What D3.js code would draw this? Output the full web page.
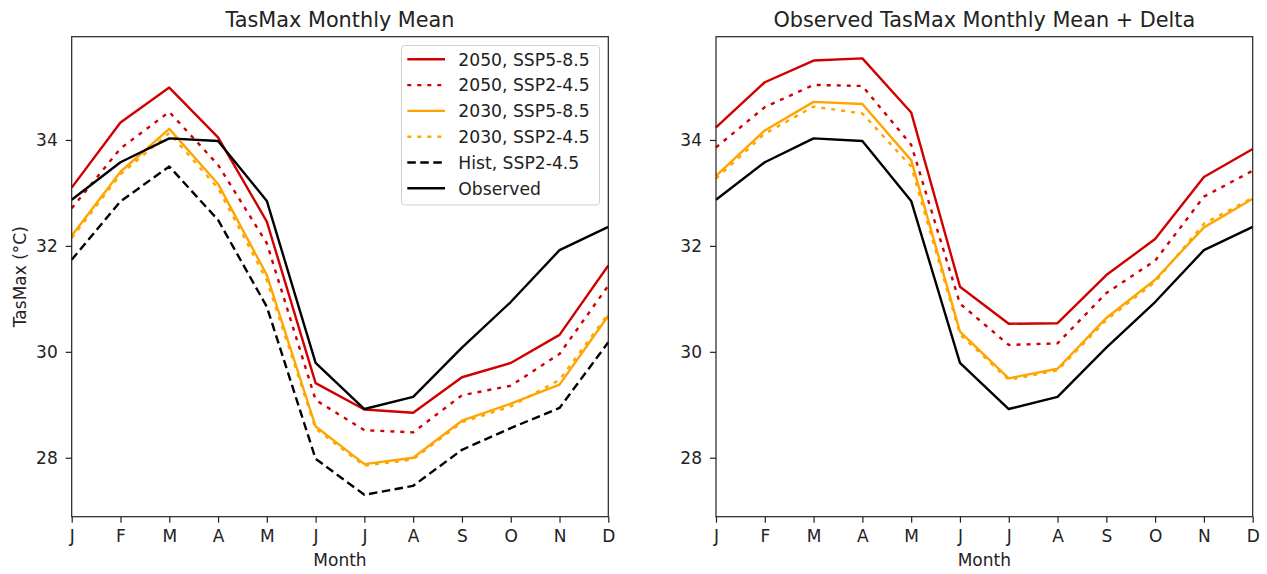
<!DOCTYPE html>
<html>
<head>
<meta charset="utf-8">
<script src="https://cdn.jsdelivr.net/npm/d3@7"></script>
<style>
  html, body { margin: 0; padding: 0; background: #fff; }
  svg { display: block; font-family: "DejaVu Sans", sans-serif; }
</style>
</head>
<body>
<svg id="chart" width="1267" height="574"></svg>
<script>
// Month tick labels
const months = ["J", "F", "M", "A", "M", "J", "J", "A", "S", "O", "N", "D"];
const yTicks = [28, 30, 32, 34];

// Left panel: modelled monthly means of daily max temperature (°C)
const obs        = [32.87, 33.58, 34.03, 33.98, 32.85, 29.79, 28.92, 29.15, 30.08, 30.94, 31.92, 32.36];
const ssp585_2050 = [33.10, 34.33, 34.99, 34.05, 32.46, 29.41, 28.91, 28.85, 29.52, 29.79, 30.32, 31.63];
const ssp245_2050 = [32.71, 33.84, 34.53, 33.53, 32.05, 29.09, 28.52, 28.48, 29.18, 29.36, 29.96, 31.25];
const ssp585_2030 = [32.19, 33.40, 34.21, 33.17, 31.45, 28.59, 27.88, 28.00, 28.70, 29.02, 29.38, 30.68];
const ssp245_2030 = [32.15, 33.35, 34.13, 33.09, 31.35, 28.55, 27.85, 27.97, 28.67, 28.97, 29.47, 30.72];
const hist245    = [31.74, 32.84, 33.50, 32.49, 30.85, 27.98, 27.30, 27.47, 28.15, 28.56, 28.94, 30.18];

// Right panel: observed climatology shifted by each scenario's change
const dSsp585_2050 = [34.24, 35.09, 35.50, 35.54, 34.52, 31.23, 30.53, 30.54, 31.45, 32.13, 33.30, 33.83];
const dSsp245_2050 = [33.86, 34.62, 35.04, 35.02, 33.91, 30.91, 30.13, 30.16, 31.11, 31.72, 32.93, 33.42];
const dSsp585_2030 = [33.32, 34.18, 34.72, 34.68, 33.62, 30.38, 29.50, 29.68, 30.64, 31.36, 32.35, 32.89];
const dSsp245_2030 = [33.27, 34.12, 34.63, 34.50, 33.50, 30.33, 29.47, 29.65, 30.60, 31.32, 32.42, 32.91];

const RED = "#d00000", ORANGE = "#ffa500", BLACK = "#000000";
const DOT = "4,6", DASH = "8.5,4.5";
const LW = 2.4;

const leftSeries = [
  { name: "2050, SSP5-8.5", values: ssp585_2050, color: RED, dash: null },
  { name: "2050, SSP2-4.5", values: ssp245_2050, color: RED, dash: DOT },
  { name: "2030, SSP5-8.5", values: ssp585_2030, color: ORANGE, dash: null },
  { name: "2030, SSP2-4.5", values: ssp245_2030, color: ORANGE, dash: DOT },
  { name: "Hist, SSP2-4.5", values: hist245, color: BLACK, dash: DASH },
  { name: "Observed", values: obs, color: BLACK, dash: null }
];
const rightSeries = [
  { values: dSsp585_2050, color: RED, dash: null },
  { values: dSsp245_2050, color: RED, dash: DOT },
  { values: dSsp585_2030, color: ORANGE, dash: null },
  { values: dSsp245_2030, color: ORANGE, dash: DOT },
  { values: obs, color: BLACK, dash: null }
];

const svg = d3.select("#chart");
const plotTop = 36.7, plotBottom = 516.7;
const y = d3.scaleLinear().domain([26.887, 35.95]).range([plotBottom, plotTop]);

function panel(x0, x1, title, series, yLabel) {
  const x = d3.scaleLinear().domain([0, 11]).range([x0, x1]);
  const g = svg.append("g");

  const line = d3.line().x((d, i) => x(i)).y(d => y(d));
  series.forEach(s => {
    g.append("path")
      .attr("d", line(s.values))
      .attr("fill", "none")
      .attr("stroke", s.color)
      .attr("stroke-width", LW)
      .attr("stroke-linejoin", "round")
      .attr("stroke-dasharray", s.dash);
  });

  const xAxis = d3.axisBottom(x).tickValues(d3.range(12))
    .tickFormat(i => months[i]).tickSize(6).tickPadding(7.5);
  const gx = g.append("g").attr("transform", `translate(0,${plotBottom})`).call(xAxis);
  const yAxis = d3.axisLeft(y).tickValues(yTicks).tickSize(6).tickPadding(8);
  const gy = g.append("g").attr("transform", `translate(${x0},0)`).call(yAxis);
  [gx, gy].forEach(a => {
    a.select(".domain").remove();
    a.selectAll(".tick line").attr("stroke", "#222").attr("stroke-width", 1.2);
    a.selectAll(".tick text").attr("fill", "#222").style("font-size", "17px")
      .style("font-family", "DejaVu Sans");
  });

  g.append("rect")
    .attr("x", x0).attr("y", plotTop).attr("width", x1 - x0).attr("height", plotBottom - plotTop)
    .attr("fill", "none").attr("stroke", "#222").attr("stroke-width", 1.2);

  g.append("text")
    .attr("x", (x0 + x1) / 2).attr("y", 26.5)
    .attr("text-anchor", "middle").attr("fill", "#222")
    .style("font-size", "20.8px").text(title);

  g.append("text")
    .attr("x", (x0 + x1) / 2).attr("y", 566)
    .attr("text-anchor", "middle").attr("fill", "#222")
    .style("font-size", "17px").text("Month");

  if (yLabel) {
    g.append("text")
      .attr("transform", `translate(26,${(plotTop + plotBottom) / 2}) rotate(-90)`)
      .attr("text-anchor", "middle").attr("fill", "#222")
      .style("font-size", "17px").text(yLabel);
  }
  return g;
}

const leftG = panel(71.7, 608.3, "TasMax Monthly Mean", leftSeries, "TasMax (°C)");
panel(716, 1252.7, "Observed TasMax Monthly Mean + Delta", rightSeries, null);

// Legend in the upper-right of the left panel
const lg = leftG.append("g");
lg.append("rect")
  .attr("x", 401.5).attr("y", 45.5).attr("width", 198).attr("height", 159.5)
  .attr("rx", 3).attr("fill", "#fff").attr("fill-opacity", 0.8)
  .attr("stroke", "#d0d0d0").attr("stroke-width", 1);
leftSeries.forEach((s, i) => {
  const yy = 59.3 + i * 25.8;
  lg.append("line")
    .attr("x1", 407.3).attr("x2", 445).attr("y1", yy).attr("y2", yy)
    .attr("stroke", s.color).attr("stroke-width", LW)
    .attr("stroke-dasharray", s.dash);
  lg.append("text")
    .attr("x", 458.3).attr("y", yy + 6.2)
    .attr("fill", "#222").style("font-size", "17.2px").text(s.name);
});
</script>
</body>
</html>
